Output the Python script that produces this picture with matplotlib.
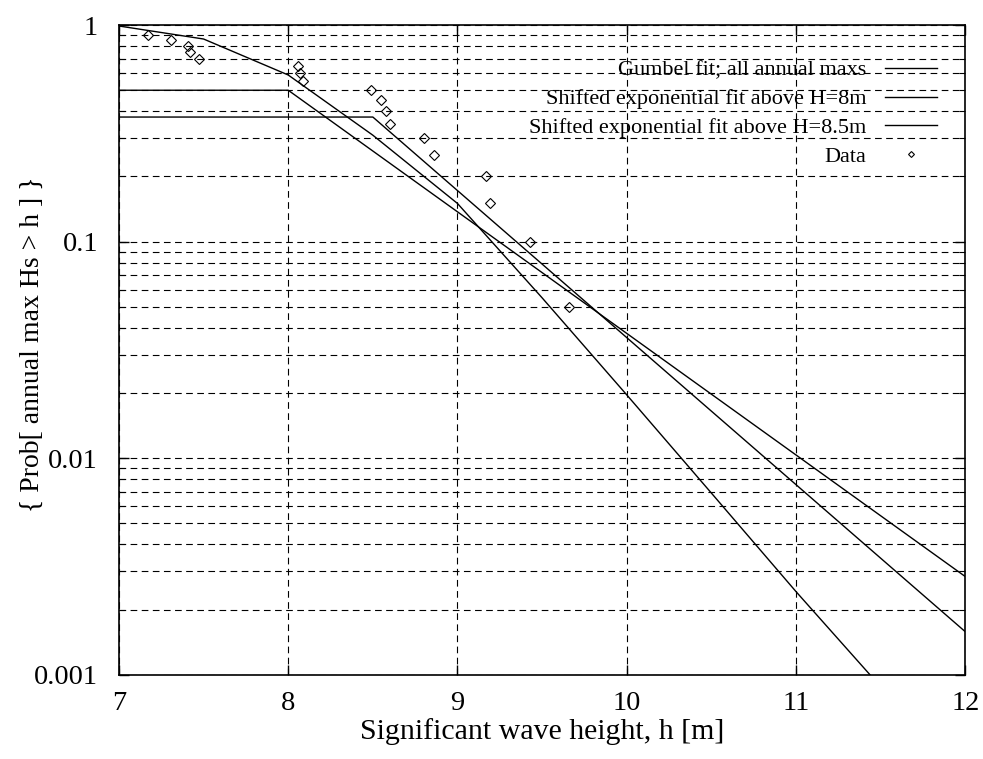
import matplotlib
matplotlib.use('Agg')
import matplotlib.pyplot as plt
from matplotlib.ticker import LogLocator, FixedLocator, NullFormatter
import numpy as np

# ---------------------- Data

# Gumbel fit, sampled every 0.5 m
gumbel_h = [7.0, 7.5, 8.0, 8.5, 9.0, 9.5, 10.0, 10.5, 11.0, 11.5, 12.0]
gumbel_p = [0.99, 0.862, 0.588, 0.31, 0.15, 0.055, 0.0196, 0.0069, 0.00242, 0.00088, 0.00031]

# Shifted exponential fit above 8 m
exp8_h = [7.0, 8.0, 12.0]
exp8_p = [0.5, 0.5, 0.00284]

# Shifted exponential fit above 8.5 m
exp85_h = [7.0, 8.5, 12.0]
exp85_p = [0.376, 0.376, 0.00158]

# Data (annual maxima)
data_h = [7.17, 7.31, 7.41, 7.42, 7.47, 8.06, 8.07, 8.09, 8.49, 8.55,
          8.58, 8.60, 8.80, 8.86, 9.17, 9.19, 9.43, 9.66]
data_p = [0.90, 0.85, 0.80, 0.75, 0.70, 0.65, 0.60, 0.55, 0.50, 0.45,
          0.40, 0.35, 0.30, 0.25, 0.20, 0.15, 0.10, 0.05]

xticks = [7, 8, 9, 10, 11, 12]
yticks = [0.001, 0.01, 0.1, 1]
ytick_labels = ['0.001', '0.01', '0.1', '1']

# ---------------------- Plot

plt.rcParams['font.family'] = 'Liberation Serif'

fig = plt.figure(figsize=(9.83, 7.59), dpi=100)
ax = fig.add_axes([0.121, 0.111, 0.861, 0.856])

lw = 1.0
ax.plot(gumbel_h, gumbel_p, color='black', linewidth=lw, label='Gumbel fit; all annual maxs')
ax.plot(exp8_h, exp8_p, color='black', linewidth=lw, label='Shifted exponential fit above H=8m')
ax.plot(exp85_h, exp85_p, color='black', linewidth=lw, label='Shifted exponential fit above H=8.5m')
ax.plot(data_h, data_p, linestyle='none', marker='D', markersize=5,
        markerfacecolor='none', markeredgecolor='black', markeredgewidth=0.8, label='Data')

ax.set_yscale('log')
ax.set_xlim(7, 12)
ax.set_ylim(0.001, 1)

ax.xaxis.set_major_locator(FixedLocator(xticks))
ax.yaxis.set_major_locator(FixedLocator(yticks))
ax.set_yticklabels(ytick_labels)
ax.yaxis.set_minor_locator(LogLocator(base=10, subs=np.arange(2, 10)))
ax.yaxis.set_minor_formatter(NullFormatter())

ax.tick_params(which='both', direction='in', top=True, right=True, labelsize=20.5)
ax.tick_params(which='major', length=7, width=1)
ax.tick_params(which='minor', length=4, width=0.8)
ax.tick_params(axis='x', which='major', pad=12)
ax.tick_params(axis='y', which='major', pad=15)

ax.grid(True, which='both', axis='y', linestyle=(0, (6, 4)), color='black', linewidth=0.8)
ax.grid(True, which='major', axis='x', linestyle=(0, (6, 4)), color='black', linewidth=0.8)

for s in ax.spines.values():
    s.set_linewidth(1.2)

ax.set_xlabel('Significant wave height, h [m]', fontsize=21.5, labelpad=1)
ax.set_ylabel('{ Prob[ annual max Hs > h ] }', fontsize=20)
ax.yaxis.set_label_coords(-0.088, 0.509)

ax.legend(loc='upper right', bbox_to_anchor=(0.967, 0.946), frameon=False,
          markerfirst=False, handlelength=2.34, handletextpad=0.85,
          labelspacing=0.37, fontsize=16, borderpad=0, borderaxespad=0,
          markerscale=0.6)

plt.savefig('out.png', dpi=100)
